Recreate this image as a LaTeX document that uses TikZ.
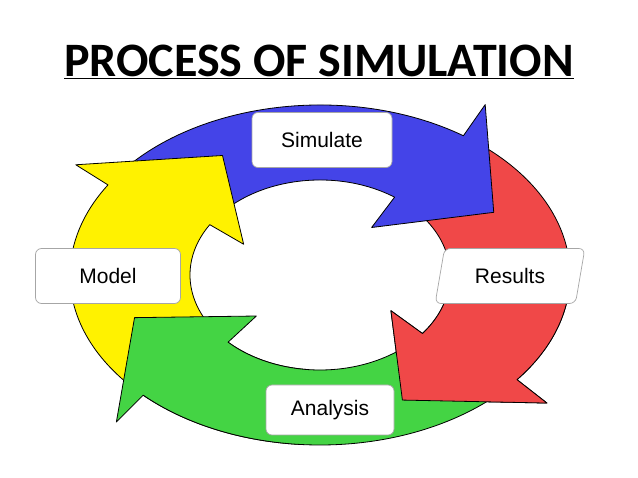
\documentclass[tikz,border=0pt]{standalone}
\usepackage{fontspec}
\setmainfont{Liberation Sans}
\newfontfamily\titlefont{Carlito}
\usetikzlibrary{shapes.geometric}
\definecolor{ayellow}{HTML}{FFF200}
\definecolor{ablue}{HTML}{4444E8}
\definecolor{ared}{HTML}{F04848}
\definecolor{agreen}{HTML}{44D444}
\newcommand\ringarrow[4]{%
 \filldraw[draw=black, fill=#4, line width=0.8pt, line join=round]
 ({320+250*cos(#1)},{275+170*sin(#1)}) arc[start angle=#1, end angle=#2, x radius=250, y radius=170]
 -- ({320+288*cos(#2)},{275+208*sin(#2)})
 -- ({320+195*cos(#3)},{275+138*sin(#3)})
 -- ({320+90*cos(#2)},{275+58*sin(#2)})
 -- ({320+130*cos(#2)},{275+95*sin(#2)})
 arc[start angle=#2, end angle=#1, x radius=130, y radius=95] -- cycle;}
\tikzset{
 label box/.style={draw=gray!70, fill=white, rounded corners=6pt, line width=0.7pt,
   font=\fontsize{21}{24}\selectfont, inner sep=0pt}
}
\begin{document}
\begin{tikzpicture}[x=1pt,y=-1pt]
\useasboundingbox (0,0) rectangle (638,478);
\fill[white] (0,0) rectangle (638,478);
\node[font=\titlefont\bfseries\fontsize{48}{52}\selectfont] (title) at (319,62) {\underline{PROCESS OF SIMULATION}};
\ringarrow{305}{398}{425}{ared}
\ringarrow{215}{305}{333}{ablue}
\ringarrow{95}{212}{240}{ayellow}
\ringarrow{40}{135}{162}{agreen}
\begin{scope}
\clip (330,290) rectangle (638,478);
\ringarrow{305}{398}{425}{ared}
\end{scope}
\node[label box, minimum width=140, minimum height=55] (simulate) at (322,140) {Simulate};
\node[label box, minimum width=145, minimum height=55] (model) at (108,276) {Model};
\node[label box, minimum width=128, minimum height=50] (analysis) at (330,410) {Analysis};
\node[label box, trapezium, trapezium left angle=65, trapezium right angle=115, trapezium stretches=true, minimum width=150, minimum height=55, text width=100, align=center] (results) at (510,276) {Results};
\end{tikzpicture}
\end{document}
